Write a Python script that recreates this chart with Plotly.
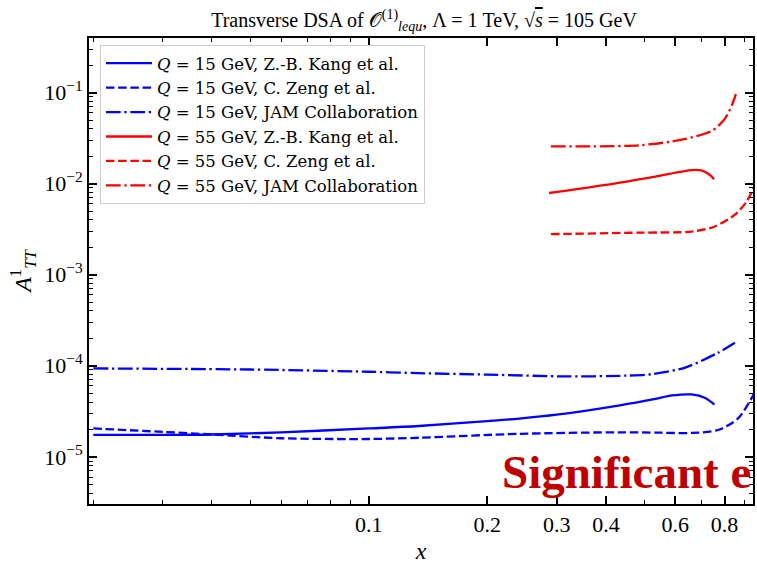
import plotly.graph_objects as go
import numpy as np

# ---- data ----
x_kang15 = [0.02, 0.03, 0.04, 0.06, 0.1, 0.134, 0.2, 0.241, 0.3, 0.434, 0.53, 0.589, 0.66, 0.715, 0.754]
y_kang15 = [1.74e-5, 1.74e-5, 1.76e-5, 1.86e-5, 2.05e-5, 2.18e-5, 2.47e-5, 2.63e-5, 2.9e-5, 3.68e-5, 4.3e-5, 4.72e-5, 4.84e-5, 4.42e-5, 3.74e-5]

x_zeng15 = [0.02, 0.03, 0.04, 0.06, 0.1, 0.134, 0.241, 0.434, 0.55, 0.66, 0.77, 0.866, 0.945, 0.96]
y_zeng15 = [2.05e-5, 1.88e-5, 1.76e-5, 1.6e-5, 1.57e-5, 1.62e-5, 1.79e-5, 1.86e-5, 1.84e-5, 1.83e-5, 1.97e-5, 2.64e-5, 4.7e-5, 5.4e-5]

x_jam15 = [0.02, 0.05, 0.1, 0.134, 0.2, 0.322, 0.45, 0.524, 0.636, 0.77, 0.85]
y_jam15 = [9.35e-5, 9.1e-5, 8.6e-5, 8.3e-5, 8.0e-5, 7.64e-5, 7.8e-5, 8.1e-5, 9.56e-5, 1.39e-4, 1.79e-4]

x_kang55 = [0.287, 0.4, 0.534, 0.66, 0.702, 0.735, 0.753]
y_kang55 = [7.9e-3, 9.7e-3, 1.197e-2, 1.41e-2, 1.39e-2, 1.245e-2, 1.12e-2]

x_zeng55 = [0.29, 0.485, 0.66, 0.756, 0.852, 0.911, 0.957]
y_zeng55 = [2.79e-3, 2.9e-3, 2.98e-3, 3.39e-3, 4.6e-3, 6.4e-3, 9.7e-3]

x_jam55 = [0.29, 0.485, 0.623, 0.744, 0.8, 0.834, 0.855]
y_jam55 = [2.57e-2, 2.64e-2, 3.04e-2, 3.83e-2, 5.1e-2, 7.16e-2, 9.6e-2]

series = [
    ("<i>Q</i> = 15 GeV, Z.-B. Kang et al.", x_kang15, y_kang15, "#0000ff", "solid"),
    ("<i>Q</i> = 15 GeV, C. Zeng et al.", x_zeng15, y_zeng15, "#0000ff", "8.5px,3.7px"),
    ("<i>Q</i> = 15 GeV, JAM Collaboration", x_jam15, y_jam15, "#0000ff", "14.7px,3.7px,2.3px,3.7px"),
    ("<i>Q</i> = 55 GeV, Z.-B. Kang et al.", x_kang55, y_kang55, "#ff0000", "solid"),
    ("<i>Q</i> = 55 GeV, C. Zeng et al.", x_zeng55, y_zeng55, "#ff0000", "8.5px,3.7px"),
    ("<i>Q</i> = 55 GeV, JAM Collaboration", x_jam55, y_jam55, "#ff0000", "14.7px,3.7px,2.3px,3.7px"),
]

x_ticks = [0.1, 0.2, 0.3, 0.4, 0.6, 0.8]
x_ticktext = ["0.1", "0.2", "0.3", "0.4", "0.6", "0.8"]
x_minor = [0.02, 0.03, 0.04, 0.05, 0.06, 0.07, 0.08, 0.09, 0.5, 0.7, 0.9]
y_ticks = [1e-5, 1e-4, 1e-3, 1e-2, 1e-1]
y_ticktext = ["10<sup>−5</sup>", "10<sup>−4</sup>", "10<sup>−3</sup>", "10<sup>−2</sup>", "10<sup>−1</sup>"]
y_minor = [k * 10.0 ** e for e in range(-6, 0) for k in range(2, 10)]

FONT = "Liberation Serif"

fig = go.Figure()
for i, (name, xs, ys, col, dash) in enumerate(series):
    fig.add_trace(go.Scatter(
        x=xs, y=ys, mode="lines", name=name,
        line=dict(color=col, width=2.3, dash=dash, shape="spline", smoothing=0.8),
    ))

axis_common = dict(
    showline=True, linecolor="black", linewidth=2, mirror="ticks",
    ticks="inside", ticklen=8, tickwidth=1.5, tickcolor="black",
    showgrid=False, zeroline=False,
    tickfont=dict(family=FONT, size=22, color="black"),
)

fig.update_xaxes(
    type="log", range=[np.log10(0.0195), np.log10(0.945)],
    tickmode="array", tickvals=x_ticks, ticktext=x_ticktext,
    minor=dict(tickmode="array", tickvals=x_minor, ticks="inside", ticklen=4, tickwidth=1.2, tickcolor="black", showgrid=False),
    title=dict(text="<i>x</i>", font=dict(family=FONT, size=24, color="black"), standoff=8),
    **axis_common,
)
fig.update_yaxes(
    type="log", range=[-5.518, -0.40],
    tickmode="array", tickvals=y_ticks, ticktext=y_ticktext,
    minor=dict(tickmode="array", tickvals=y_minor, ticks="inside", ticklen=4, tickwidth=1.2, tickcolor="black", showgrid=False),
    title=dict(text="<i>A</i><sup>1</sup><sub><i>TT</i></sub>", font=dict(family=FONT, size=24, color="black"), standoff=6),
    **axis_common,
)

fig.update_layout(
    width=757, height=564,
    margin=dict(l=89, r=2, t=38, b=54),
    paper_bgcolor="white", plot_bgcolor="white",
    font=dict(family=FONT, color="black"),
    title=dict(
        text="Transverse DSA of 𝒪<sup>(1)</sup><sub><i>lequ</i></sub>, Λ = 1 TeV, √<span style='text-decoration:overline'><i>s</i></span> = 105 GeV",
        x=(424) / 757, xanchor="center", y=1 - 20 / 564, yanchor="middle",
        font=dict(family=FONT, size=20, color="black"),
    ),
    legend=dict(
        x=(100 - 89) / 666, y=(510 - 45) / 472, xanchor="left", yanchor="top",
        bgcolor="rgba(255,255,255,0.8)", bordercolor="#cccccc", borderwidth=1,
        font=dict(family="DejaVu Serif", size=16.5, color="black"),
        traceorder="normal", itemwidth=46,
    ),
    showlegend=True,
)

fig.add_annotation(
    text="<b>Significant e</b>", xref="paper", yref="paper",
    x=(501 - 89) / 666, y=(510 - 478) / 472, xanchor="left", yanchor="middle",
    showarrow=False, font=dict(family=FONT, size=47, color="#c00000"),
)

fig.write_html("out.html")
